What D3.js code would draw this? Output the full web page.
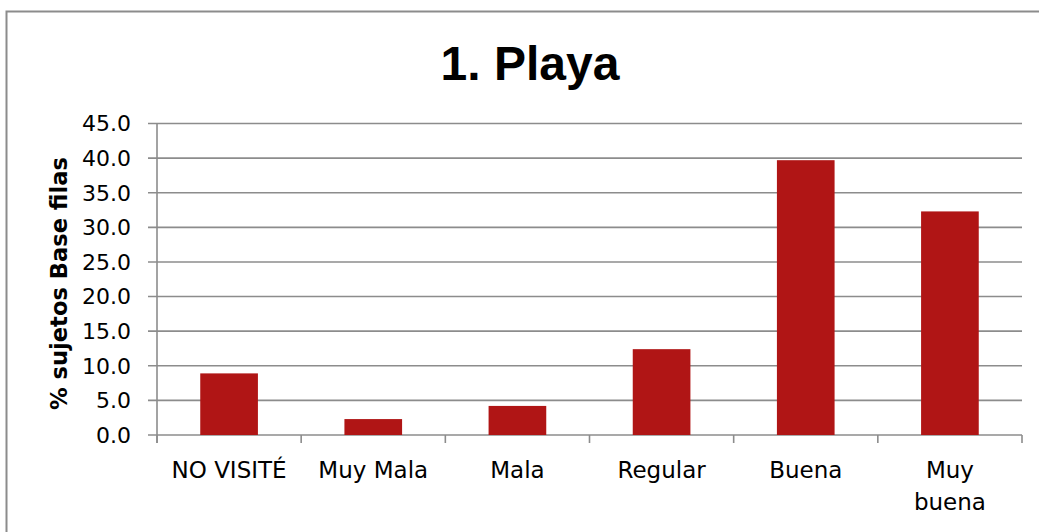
<!DOCTYPE html>
<html><head><meta charset="utf-8">
<script src="https://cdn.jsdelivr.net/npm/d3@7"></script>
<style>
html,body{margin:0;padding:0;background:#fff;}
svg{display:block;font-family:"DejaVu Sans",sans-serif;}
</style></head>
<body>
<svg id="chart" width="1039" height="532"></svg>
<script>
const categories = ["NO VISITÉ","Muy Mala","Mala","Regular","Buena","Muy buena"];
const tickLabels = ["NO VISITÉ","Muy Mala","Mala","Regular","Buena","Muy\nbuena"];
const values = [8.9, 2.3, 4.2, 12.4, 39.7, 32.3];
const yTicks = [0,5,10,15,20,25,30,35,40,45];
const chartTitle = "1. Playa";
const yTitle = "% sujetos Base filas";

(function(){
const svg = d3.select("#chart");
const pL = 157, pR = 1022, pT = 123.5, pB = 435;

// frame
svg.append("path").attr("d", `M6.5,540 L6.5,11.5 L1045,11.5`)
  .attr("fill","none").attr("stroke","#8c8c8c").attr("stroke-width",2);

const x = d3.scaleBand().domain(categories).range([pL,pR]).paddingInner(0.6).paddingOuter(0.3);
const y = d3.scaleLinear().domain([0,45]).range([pB,pT]);

// gridlines
svg.append("g").selectAll("line").data(yTicks).join("line")
  .attr("x1", pL-9).attr("x2", pR)
  .attr("y1", d=>y(d)).attr("y2", d=>y(d))
  .attr("stroke","#8c8c8c").attr("stroke-width",1.6);

// y axis line
svg.append("line").attr("x1",pL).attr("x2",pL).attr("y1",pT).attr("y2",pB+8)
  .attr("stroke","#8c8c8c").attr("stroke-width",1.6);

// x ticks at band boundaries
const bounds = categories.map(c => x(c) - x.step()*x.paddingInner()/2);
bounds.push(pR);
svg.append("g").selectAll("line").data(bounds).join("line")
  .attr("x1",d=>d).attr("x2",d=>d).attr("y1",pB).attr("y2",pB+8)
  .attr("stroke","#8c8c8c").attr("stroke-width",1.6);

// y tick labels
svg.append("g").selectAll("text").data(yTicks).join("text")
  .attr("x", 131).attr("y", d=>y(d)).attr("dy","0.36em")
  .attr("text-anchor","end").attr("font-size",22).attr("fill","#000")
  .text(d3.format(".1f"));

// bars
svg.append("g").selectAll("rect").data(values).join("rect")
  .attr("x",(d,i)=>x(categories[i])).attr("width",x.bandwidth())
  .attr("y",d=>y(d)).attr("height",d=>pB-y(d))
  .attr("fill","#B01515");

// category labels
const cl = svg.append("g").selectAll("text").data(tickLabels).join("text")
  .attr("x",(d,i)=>x(categories[i])+x.bandwidth()/2)
  .attr("y",478).attr("text-anchor","middle").attr("font-size",23).attr("fill","#000");
cl.each(function(d){
  const t = d3.select(this);
  d.split("\n").forEach((ln,k)=>{
    t.append("tspan").attr("x",t.attr("x")).attr("dy",k===0?0:32).text(ln);
  });
});

// title
svg.append("text").attr("x",530).attr("y",80).attr("text-anchor","middle")
  .style("font-family","'Liberation Sans',Arial,sans-serif")
  .attr("font-size",48).attr("font-weight","bold").text(chartTitle);

// y title
svg.append("text").attr("transform","translate(67,283.5) rotate(-90)")
  .attr("text-anchor","middle").attr("font-size",22.6).attr("font-weight","bold").text(yTitle);
})();
</script>
</body></html>
